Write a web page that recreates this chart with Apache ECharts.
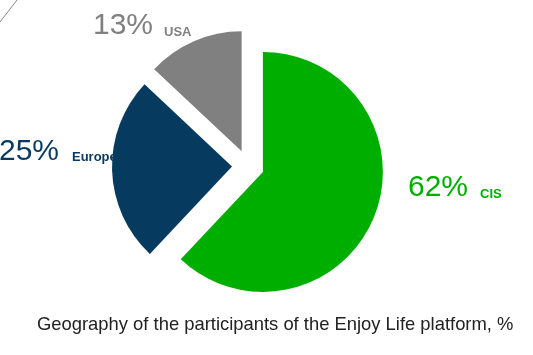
<!DOCTYPE html>
<html><head><meta charset="utf-8">
<script src="https://cdn.jsdelivr.net/npm/echarts@6/dist/echarts.min.js"></script>
<style>html,body{margin:0;padding:0;background:#fff}#c{width:533px;height:355px}</style>
</head><body><div id="c"></div>
<script>
const categories = ['CIS', 'Europe', 'USA'];
const values = [62, 25, 13];
const colors = ['#00AE00', '#063A5E', '#808080'];
const titleText = 'Geography of the participants of the Enjoy Life platform, %';
// label layout: [bigX, bigMidY, smallX, smallMidY]
const labelLayoutPos = [[408, 188, 480, 194], [-1, 152, 72, 157], [93, 26, 164, 32]];

const chart = echarts.init(document.getElementById('c'), null, {renderer: 'canvas'});
const data = categories.map((n, i) => ({
  name: n, value: values[i], selected: true,
  itemStyle: {color: colors[i]},
  select: {itemStyle: {color: colors[i], borderWidth: 0}}
}));
const labelGraphics = [];
categories.forEach((n, i) => {
  const p = labelLayoutPos[i];
  labelGraphics.push({type: 'text', z: 0, x: p[0], y: p[1], style: {
    text: values[i] + '%', fill: colors[i], font: '30px "Liberation Sans", Arial, sans-serif',
    align: 'left', verticalAlign: 'middle'}});
  labelGraphics.push({type: 'text', z: 0, x: p[2], y: p[3], style: {
    text: n, fill: colors[i], font: 'bold 13px "Liberation Sans", Arial, sans-serif',
    align: 'left', verticalAlign: 'middle'}});
});
chart.setOption({
  backgroundColor: '#fff',
  animation: false,
  title: {
    text: titleText, left: 37, top: 316, padding: 0,
    textStyle: {fontSize: 18.4, fontWeight: 'normal', color: '#222', fontFamily: 'Liberation Sans'}
  },
  graphic: [{type: 'line', shape: {x1: 0, y1: 22, x2: 17, y2: 0}, style: {stroke: '#888', lineWidth: 1}}].concat(labelGraphics),
  series: [{
    type: 'pie',
    z: 5,
    center: [248, 166],
    radius: [0, 120],
    startAngle: 90,
    clockwise: true,
    selectedMode: 'multiple',
    selectedOffset: 16,
    emphasis: {disabled: true},
    label: {show: false},
    labelLine: {show: false},
    data: data
  }]
});
</script></body></html>
